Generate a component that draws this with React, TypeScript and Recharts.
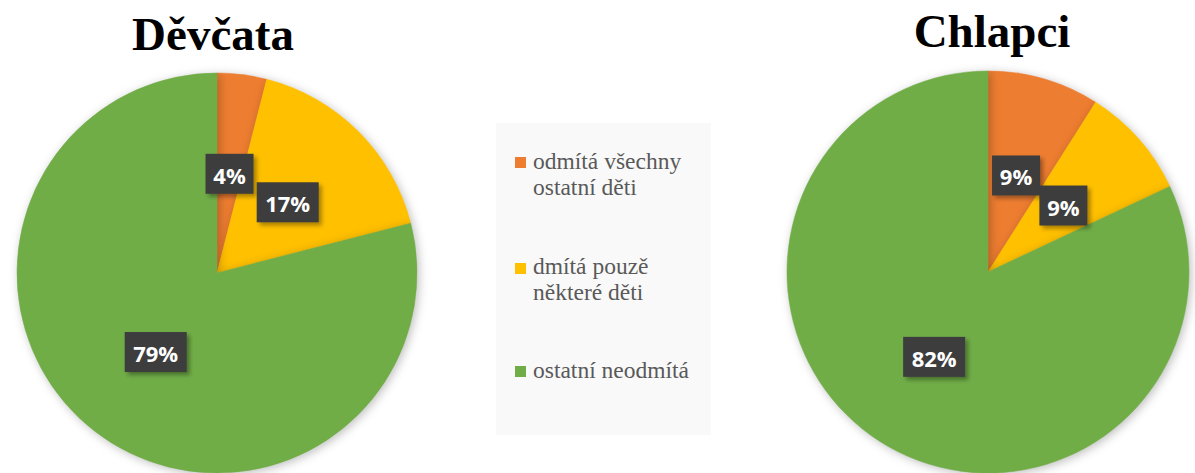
import React from 'react';
import { PieChart, Pie, Cell, Legend } from 'recharts';

const categories = ['odmítá všechny ostatní děti', 'dmítá pouzě některé děti', 'ostatní neodmítá'];
const legendLines = [['odmítá všechny', 'ostatní děti'], ['dmítá pouzě', 'některé děti'], ['ostatní neodmítá']];
const girlsValues = [4, 17, 79];
const boysValues = [9, 9, 82];
const titles = ['Děvčata', 'Chlapci'];
const colors = ['#ED7D31', '#FFC000', '#70AD47'];

const girlsData = categories.map((name, i) => ({ name, value: girlsValues[i] }));
const boysData = categories.map((name, i) => ({ name, value: boysValues[i] }));

const RADIAN = Math.PI / 180;

const renderLabel = (props: any) => {
  const { cx, cy, midAngle, outerRadius, value } = props;
  const r = outerRadius * 0.5;
  const x = cx + r * Math.cos(-midAngle * RADIAN);
  const y = cy + r * Math.sin(-midAngle * RADIAN);
  const text = `${value}%`;
  const w = text.length > 2 ? 62 : 48;
  const h = 40;
  return (
    <g>
      <rect x={x - w / 2} y={y - h / 2} width={w} height={h} fill="#3d3d3d" filter="url(#lblShadow)" />
      <text
        x={x}
        y={y + 1}
        textAnchor="middle"
        dominantBaseline="central"
        fill="#ffffff"
        fontFamily="'Open Sans', sans-serif"
        fontWeight={700}
        fontSize={22}
      >
        {text}
      </text>
    </g>
  );
};

const LegendContent = () => {
  const markerYs = [157, 263, 366];
  const baseYs = [169, 274, 378];
  return (
    <svg width={1195} height={473} style={{ position: 'absolute', left: 0, top: 0 }}>
      <rect x={496} y={123} width={215} height={312} fill="#f9f9f9" />
      {legendLines.map((lines, i) => (
        <g key={i}>
          <rect x={515} y={markerYs[i]} width={11} height={11} fill={colors[i]} />
          {lines.map((ln, j) => (
            <text
              key={j}
              x={533}
              y={baseYs[i] + j * 26}
              fill="#595959"
              fontFamily="'Liberation Serif', 'Times New Roman', serif"
              fontSize={23.5}
            >
              {ln}
            </text>
          ))}
        </g>
      ))}
    </svg>
  );
};

export default function App() {
  return (
    <div style={{ position: 'fixed', left: 0, top: 0, width: 1195, height: 473, background: '#ffffff', overflow: 'hidden' }}>
      <svg width={0} height={0} style={{ position: 'absolute' }}>
        <defs>
          <filter id="lblShadow" x="-30%" y="-30%" width="160%" height="160%">
            <feDropShadow dx="3" dy="3" stdDeviation="2" floodColor="#000" floodOpacity="0.35" />
          </filter>
        </defs>
      </svg>
      <div style={{ position: 'absolute', left: 0, top: 0 }}>
        <PieChart width={1195} height={473} margin={{ top: 0, right: 0, bottom: 0, left: 0 }}>
          <Pie
            data={girlsData}
            dataKey="value"
            nameKey="name"
            cx={217}
            cy={273}
            outerRadius={200}
            startAngle={90}
            endAngle={-270}
            label={renderLabel}
            labelLine={false}
            stroke="none"
            isAnimationActive={false}
            style={{ filter: 'drop-shadow(2px 2px 5px rgba(0,0,0,0.25))' }}
          >
            {girlsData.map((d, i) => (
              <Cell key={d.name} fill={colors[i]} stroke={colors[i]} strokeWidth={0.5} />
            ))}
          </Pie>
          <Pie
            data={boysData}
            dataKey="value"
            nameKey="name"
            cx={988}
            cy={272}
            outerRadius={201}
            startAngle={90}
            endAngle={-270}
            label={renderLabel}
            labelLine={false}
            stroke="none"
            isAnimationActive={false}
            style={{ filter: 'drop-shadow(2px 2px 5px rgba(0,0,0,0.25))' }}
          >
            {boysData.map((d, i) => (
              <Cell key={d.name} fill={colors[i]} stroke={colors[i]} strokeWidth={0.5} />
            ))}
          </Pie>
          <Legend content={() => null} />
        </PieChart>
      </div>
      <LegendContent />
      <svg width={1195} height={80} style={{ position: 'absolute', left: 0, top: 0 }}>
        <text x={213} y={50} textAnchor="middle" fontFamily="'Liberation Serif', 'Times New Roman', serif" fontWeight={700} fontSize={47} fill="#000">
          {titles[0]}
        </text>
        <text x={992} y={47} textAnchor="middle" fontFamily="'Liberation Serif', 'Times New Roman', serif" fontWeight={700} fontSize={47} fill="#000">
          {titles[1]}
        </text>
      </svg>
    </div>
  );
}
